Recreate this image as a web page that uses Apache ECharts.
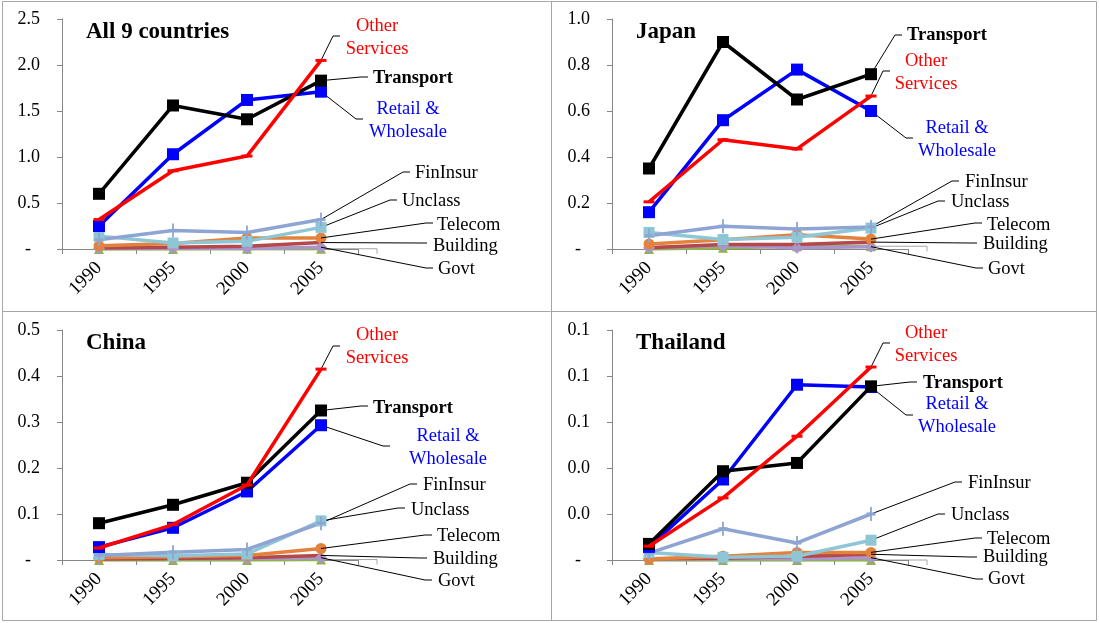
<!DOCTYPE html>
<html>
<head>
<meta charset="utf-8">
<script src="https://cdn.jsdelivr.net/npm/echarts@6/dist/echarts.min.js"></script>
<style>
html,body{margin:0;padding:0;background:#fff;}
#chart{width:1099px;height:623px;}
</style>
</head>
<body>
<div id="chart"></div>
<script>
// ---------- DATA ----------
const years = ['1990', '1995', '2000', '2005'];
const panelTitles = ['All 9 countries', 'Japan', 'China', 'Thailand'];
const yMax = [2.5, 1.0, 0.5, 0.1];
const yStep = [0.5, 0.2, 0.1, 0.02];

const seriesNames = ['Other\nServices', 'Transport', 'Retail &\nWholesale', 'FinInsur', 'Unclass', 'Telecom', 'Building', 'Govt', ''];

// All 9 countries
const otherAll     = [0.32, 0.85, 1.01, 2.05];
const transportAll = [0.60, 1.56, 1.41, 1.83];
const retailAll    = [0.25, 1.03, 1.62, 1.71];
const finAll       = [0.10, 0.20, 0.18, 0.32];
const unclassAll   = [0.14, 0.065, 0.083, 0.235];
const telecomAll   = [0.035, 0.06, 0.12, 0.12];
const buildingAll  = [0.01, 0.02, 0.03, 0.07];
const govtAll      = [0.005, 0.01, 0.005, 0.02];
const miscAll      = [0.0, 0.0, 0.003, 0.003];

// Japan
const otherJp     = [0.205, 0.475, 0.435, 0.665];
const transportJp = [0.35, 0.90, 0.65, 0.76];
const retailJp    = [0.16, 0.56, 0.78, 0.60];
const finJp       = [0.058, 0.099, 0.087, 0.096];
const unclassJp   = [0.072, 0.041, 0.051, 0.091];
const telecomJp   = [0.022, 0.040, 0.062, 0.043];
const buildingJp  = [0.005, 0.02, 0.02, 0.03];
const govtJp      = [0.005, 0.015, 0.005, 0.01];
const miscJp      = [0.0, 0.005, 0.012, 0.012];

// China
const otherCn     = [0.026, 0.077, 0.163, 0.415];
const transportCn = [0.080, 0.120, 0.168, 0.325];
const retailCn    = [0.028, 0.070, 0.149, 0.293];
const finCn       = [0.010, 0.017, 0.023, 0.080];
const unclassCn   = [0.012, 0.009, 0.013, 0.085];
const telecomCn   = [0.005, 0.007, 0.010, 0.025];
const buildingCn  = [0.002, 0.003, 0.005, 0.010];
const govtCn      = [0.003, 0.003, 0.003, 0.005];
const miscCn      = [0.0, 0.0, 0.0, 0.001];

// Thailand
const otherTh     = [0.006, 0.027, 0.0538, 0.0839];
const transportTh = [0.007, 0.0386, 0.0422, 0.0755];
const retailTh    = [0.0057, 0.035, 0.0762, 0.0752];
const finTh       = [0.003, 0.0136, 0.0074, 0.020];
const unclassTh   = [0.0033, 0.0012, 0.0016, 0.0086];
const telecomTh   = [0.0004, 0.0016, 0.0033, 0.0033];
const buildingTh  = [0.0005, 0.0008, 0.0015, 0.0025];
const govtTh      = [0.0003, 0.0005, 0.0005, 0.001];
const miscTh      = [0.0, 0.0, 0.0, 0.0];

const panelData = [
  [otherAll, transportAll, retailAll, finAll, unclassAll, telecomAll, buildingAll, govtAll, miscAll],
  [otherJp, transportJp, retailJp, finJp, unclassJp, telecomJp, buildingJp, govtJp, miscJp],
  [otherCn, transportCn, retailCn, finCn, unclassCn, telecomCn, buildingCn, govtCn, miscCn],
  [otherTh, transportTh, retailTh, finTh, unclassTh, telecomTh, buildingTh, govtTh, miscTh]
];

// ---------- STYLE / LAYOUT ----------
const FONT = '"Liberation Serif", "DejaVu Serif", serif';
const panelOrigin = [[0, 0], [550, 0], [0, 311], [550, 311]];
const gridLeft = 62, gridTop = 19, gridW = 296, gridH = 230;

const plus = 'path://M4,0 L6,0 L6,4 L10,4 L10,6 L6,6 L6,10 L4,10 L4,6 L0,6 L0,4 L4,4 Z';
const seriesStyle = [
  {color: '#FF0000', symbol: 'rect', size: [11, 3], width: 3.5, labelColor: '#FF0000', bold: false, center: true, z: 6},
  {color: '#000000', symbol: 'rect', size: 12, width: 3.5, labelColor: '#000000', bold: true, center: false, z: 5},
  {color: '#0000FF', symbol: 'rect', size: 12, width: 3.5, labelColor: '#0000FF', bold: false, center: true, z: 4},
  {color: '#8EA5D4', symbol: plus, size: [9, 14], width: 3.5, labelColor: '#000', bold: false, center: false, z: 3},
  {color: '#8FC6D6', symbol: 'rect', size: 11, width: 3.5, labelColor: '#000', bold: false, center: false, z: 3},
  {color: '#E2823C', symbol: 'circle', size: 11, width: 3.5, labelColor: '#000', bold: false, center: false, z: 2},
  {color: '#B5484A', symbol: 'circle', size: 2, width: 3.5, labelColor: '#000', bold: false, center: false, z: 2},
  {color: '#A995C9', symbol: 'diamond', size: 12, width: 3.5, labelColor: '#000', bold: false, center: false, z: 2},
  {color: '#8DB24F', symbol: 'triangle', size: 10, width: 3.5, labelColor: '#000', bold: false, center: false, z: 1}
];

// label anchor positions (absolute px) per panel, per series
const labelPos = [
  [[377, 38], [373, 78], [408, 121], [415, 173], [402, 201], [437, 225], [433, 246], [438, 269], null],
  [[926, 73], [907, 35], [957, 140], [965, 182], [951, 202], [987, 225], [983, 244], [988, 269], null],
  [[377, 347], [373, 408], [448, 448], [423, 485], [411, 510], [437, 536], [433, 559], [438, 581], null],
  [[926, 345], [923, 383], [957, 416], [968, 483], [951, 515], [987, 539], [983, 557], [988, 579], null]
];
// leader line end (label side), absolute px
const leaderEnd = [
  [[340, 36], [368, 77], [363, 119], [410, 172], [397, 200], [433, 223], [427, 243], [433, 268], null],
  [[890, 71], [902, 35], [913, 138], [959, 181], [945, 201], [982, 223], [977, 243], [983, 268], null],
  [[340, 346], [368, 406], [390, 446], [417, 484], [405, 508], [432, 535], [427, 558], [432, 580], null],
  [[890, 343], [917, 382], [913, 415], [962, 482], [945, 514], [982, 538], [977, 557], [983, 579], null]
];

const grids = [], xAxes = [], yAxes = [], titles = [], series = [];

for (let p = 0; p < 4; p++) {
  const [ox, oy] = panelOrigin[p];
  grids.push({left: ox + gridLeft, top: oy + gridTop, width: gridW, height: gridH});
  xAxes.push({
    type: 'category', gridIndex: p, data: years, boundaryGap: true,
    axisLine: {lineStyle: {color: '#868686', width: 1}},
    axisTick: {show: true, length: 5, lineStyle: {color: '#868686'}},
    axisLabel: {rotate: 45, margin: 16, color: '#000', fontFamily: FONT, fontSize: 19},
    splitLine: {show: false}
  });
  yAxes.push({
    type: 'value', gridIndex: p, min: 0, max: yMax[p], interval: yStep[p],
    axisLine: {show: true, lineStyle: {color: '#868686', width: 1}},
    axisTick: {show: true, length: 5, lineStyle: {color: '#868686'}},
    axisLabel: {
      margin: 22, color: '#000', fontFamily: FONT, fontSize: 18,
      formatter: v => (Math.abs(v) < 1e-9 ? '-  ' : v.toFixed(1))
    },
    splitLine: {show: false}
  });
  titles.push({
    text: panelTitles[p], left: ox + 86, top: oy + 21, padding: 0,
    textStyle: {fontFamily: FONT, fontSize: 23, fontWeight: 'bold', color: '#000'}
  });

  const data = panelData[p];
  for (let s = seriesStyle.length - 1; s >= 0; s--) {
    const st = seriesStyle[s];
    const pos = labelPos[p][s];
    const vals = data[s].map((v, i) => (i === 3 && pos) ? {value: v, label: {show: true}} : v);
    series.push({
      type: 'line', name: seriesNames[s] || 'misc',
      xAxisIndex: p, yAxisIndex: p,
      data: vals, z: st.z,
      symbol: st.symbol, symbolSize: st.size, showAllSymbol: true,
      lineStyle: {color: st.color, width: st.width},
      itemStyle: {color: st.color, borderWidth: 0},
      emphasis: {disabled: true},
      label: {
        show: false, formatter: seriesNames[s],
        color: st.labelColor, fontFamily: FONT, fontSize: 18.5, lineHeight: 23,
        fontWeight: st.bold ? 'bold' : 'normal', align: st.center ? 'center' : 'left'
      },
      labelLine: {show: false},
      labelLayout: function (params) {
        if (!pos || params.dataIndex !== 3) return {};
        return {x: pos[0], y: pos[1], align: st.center ? 'center' : 'left', verticalAlign: 'middle'};
      }
    });
  }
}

const chart = echarts.init(document.getElementById('chart'), null, {renderer: 'canvas'});
chart.setOption({
  backgroundColor: '#ffffff',
  animation: false,
  title: titles,
  grid: grids,
  xAxis: xAxes,
  yAxis: yAxes,
  series: series
});

// frame + leader lines (start point from the library's own scales)
const graphics = [
  {type: 'rect', silent: true, shape: {x: 2.5, y: 1.5, width: 1094, height: 619},
   style: {fill: null, stroke: '#A6A6A6', lineWidth: 1}},
  {type: 'line', silent: true, shape: {x1: 551.5, y1: 1.5, x2: 551.5, y2: 620.5},
   style: {stroke: '#A6A6A6', lineWidth: 1}},
  {type: 'line', silent: true, shape: {x1: 2.5, y1: 311.5, x2: 1096.5, y2: 311.5},
   style: {stroke: '#A6A6A6', lineWidth: 1}}
];
for (let p = 0; p < 4; p++) {
  const data = panelData[p];
  for (let s = 0; s < seriesStyle.length; s++) {
    const pt = chart.convertToPixel({xAxisIndex: p, yAxisIndex: p}, [3, data[s][3]]);
    const end = leaderEnd[p][s];
    if (end) {
      graphics.push({
        type: 'polyline', silent: true, z: 3,
        shape: {points: [pt, [end[0] - 7, end[1]], end]},
        style: {stroke: '#000', lineWidth: 1, fill: null}
      });
    } else {
      const bx = panelOrigin[p][0] + 377;
      graphics.push({
        type: 'polyline', silent: true, z: 0,
        shape: {points: [pt, [bx, pt[1]], [bx, pt[1] + 5]]},
        style: {stroke: '#A6A6A6', lineWidth: 1, fill: null}
      });
    }
  }
}
chart.setOption({graphic: graphics});
</script>
</body>
</html>
